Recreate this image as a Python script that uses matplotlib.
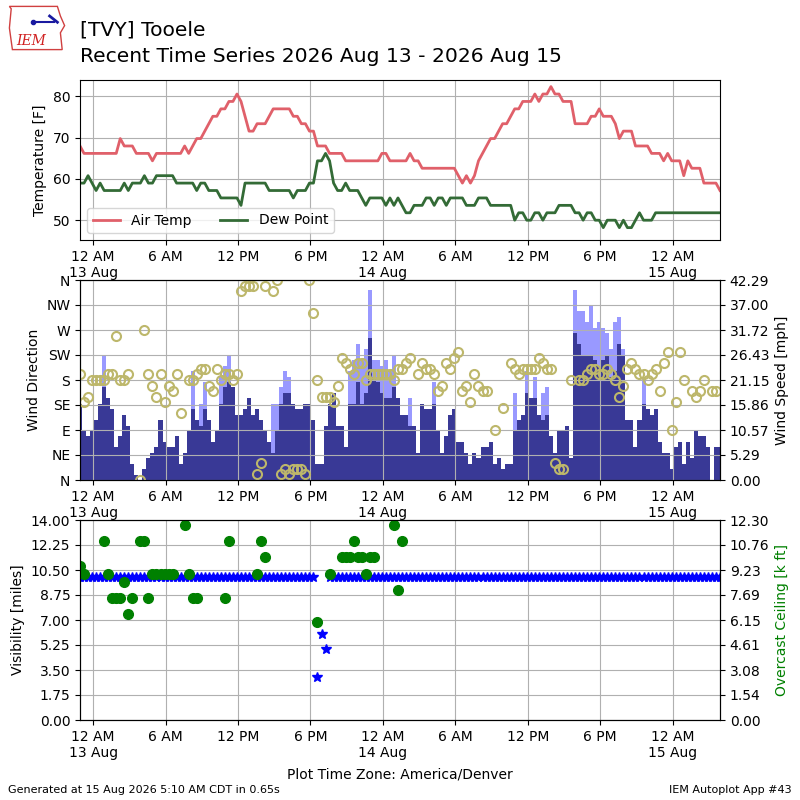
import numpy as np
import pandas as pd
import matplotlib
matplotlib.use("Agg")
import matplotlib.pyplot as plt
import matplotlib.dates as mdates
from matplotlib.ticker import FuncFormatter

N = np.nan

station = "[TVY] Tooele"
subtitle = "Recent Time Series 2026 Aug 13 - 2026 Aug 15"
first_obs = "2026-08-12 22:55"  # observations every 20 minutes
footer_left = "Generated at 15 Aug 2026 5:10 AM CDT in 0.65s"
footer_right = "IEM Autoplot App #43"
tz_label = "Plot Time Zone: America/Denver"

# air temperature [C]
tmpc = [20, 19, 19, 19, 19, 19, 19, 19, 19, 19,
        21, 20, 20, 20, 19, 19, 19, 19, 18, 19,
        19, 19, 19, 19, 19, 19, 20, 19, 20, 21,
        21, 22, 23, 24, 24, 25, 25, 26, 26, 27,
        26, 24, 22, 22, 23, 23, 23, 24, 25, 25,
        25, 25, 25, 24, 24, 23, 23, 22, 22, 20,
        20, 20, 19, 19, 19, 19, 18, 18, 18, 18,
        18, 18, 18, 18, 18, 19, 19, 18, 18, 18,
        18, 18, 19, 18, 18, 17, 17, 17, 17, 17,
        17, 17, 17, 17, 16, 15, 16, 15, 16, 18,
        19, 20, 21, 21, 22, 23, 23, 24, 25, 25,
        26, 26, 26, 27, 26, 27, 27, 28, 27, 27,
        26, 26, 26, 23, 23, 23, 23, 24, 24, 25,
        24, 24, 24, 23, 21, 22, 22, 22, 20, 20,
        20, 20, 19, 19, 19, 18, 19, 18, 18, 18,
        16, 18, 17, 17, 17, 15, 15, 15, 15, 14]

# dew point [C]
dwpc = [15, 15, 16, 15, 14, 15, 14, 14, 14, 14,
        14, 15, 14, 15, 15, 15, 16, 15, 15, 16,
        16, 16, 16, 16, 15, 15, 15, 15, 15, 14,
        15, 15, 14, 14, 14, 13, 13, 13, 13, 13,
        12, 15, 15, 15, 15, 15, 15, 14, 14, 14,
        14, 14, 14, 13, 14, 14, 14, 15, 15, 18,
        18, 19, 18, 15, 14, 14, 15, 14, 14, 14,
        13, 12, 13, 13, 13, 13, 12, 13, 12, 13,
        12, 11, 11, 12, 12, 12, 13, 13, 12, 13,
        13, 12, 13, 13, 13, 13, 12, 12, 12, 13,
        13, 13, 12, 12, 12, 12, 12, 12, 10, 11,
        11, 10, 10, 11, 11, 10, 11, 11, 11, 12,
        12, 12, 12, 11, 11, 10, 11, 11, 10, 10,
        9, 10, 10, 10, 9, 10, 9, 9, 10, 11,
        10, 10, 10, 11, 11, 11, 11, 11, 11, 11,
        11, 11, 11, 11, 11, 11, 11, 11, 11, 11]

# wind speed [kt]
sknt = [14, 9, 8, 9, 11, 14, 17, 15, 13, 6,
        8, 12, 10, 3, 1, 0, 2, 4, 5, 6,
        11, 7, 6, 6, 8, 3, 5, 9, 13, 11,
        10, 13, 11, 7, 9, 14, 17, 18, 17, 12,
        12, 13, 15, 12, 13, 11, 9, 7, 5, 9,
        14, 16, 16, 14, 13, 13, 14, 14, 11, 3,
        3, 10, 14, 16, 10, 10, 6, 14, 14, 18,
        14, 16, 26, 19, 18, 16, 15, 15, 17, 15,
        12, 12, 10, 10, 5, 14, 13, 13, 14, 9,
        5, 8, 12, 13, 7, 7, 5, 3, 5, 4,
        6, 6, 7, 3, 4, 2, 3, 3, 9, 11,
        12, 16, 15, 15, 12, 11, 12, 8, 5, 9,
        9, 10, 4, 27, 25, 23, 23, 23, 22, 21,
        22, 23, 19, 20, 25, 23, 11, 11, 6, 11,
        14, 13, 12, 13, 7, 5, 5, 2, 6, 7,
        3, 7, 4, 9, 8, 8, 6, 0, 6, 6]

# wind gust [kt]
gust = [N, N, N, N, N, N, 23, N, N, N,
        N, N, N, N, N, N, N, N, N, N,
        N, N, N, N, N, N, N, N, 20, N,
        14, 18, N, N, N, 19, 21, 23, N, N,
        N, N, N, N, N, N, N, N, 14, 14,
        17, 20, 19, N, N, N, N, N, N, N,
        N, N, N, N, N, N, N, 20, 22, 25,
        22, 24, 35, 22, 22, 21, 22, 20, 23, N,
        N, N, 15, N, N, N, N, N, 18, N,
        N, N, N, N, N, N, N, N, N, N,
        N, N, N, N, N, N, N, N, 16, N,
        N, 20, N, 19, N, 16, 17, N, N, N,
        N, N, N, 35, 31, 31, 29, 32, 28, 29,
        28, 27, 24, 29, 30, 24, N, N, N, N,
        19, N, N, N, N, N, N, N, N, N,
        N, N, N, N, N, N, N, N, N, N]

# wind direction [deg]
drct = [190, 140, 150, 180, 180, 180, 180, 190, 190, 260,
        180, 180, 190, N, N, 0, 270, 190, 170, 150,
        190, 140, 170, 160, 190, 120, N, 180, 180, 190,
        200, 200, 170, 160, 200, 180, 190, 190, 180, 190,
        340, 350, 350, 350, 10, 30, 350, N, 340, 360,
        10, 20, 10, 20, 20, 20, 10, 360, 300, 180,
        150, 150, 150, 140, 170, 220, 210, 200, 190, 210,
        210, 180, 190, 190, 190, 190, 190, 190, 180, 200,
        200, 210, 220, N, 190, 210, 200, 200, 190, 160,
        170, 210, 200, 220, 230, 160, 170, 140, 190, 170,
        160, 160, N, 90, N, 130, N, 210, 200, 190,
        200, 200, 200, 200, 220, 210, 200, 200, 30, 20,
        20, N, 180, N, 180, 180, 190, 200, 200, 190,
        190, 200, 190, 180, 150, 170, 200, 210, 200, 190,
        190, 180, 190, 200, 160, 210, 230, 90, 140, 230,
        180, N, 160, 150, 160, 180, N, 160, 160, N]

# visibility [miles]
vsby = [10, 10, 10, 10, 10, 10, 10, 10, 10, 10,
        10, 10, 10, 10, 10, 10, 10, 10, 10, 10,
        10, 10, 10, 10, 10, 10, 10, 10, 10, 10,
        10, 10, 10, 10, 10, 10, 10, 10, 10, 10,
        10, 10, 10, 10, 10, 10, 10, 10, 10, 10,
        10, 10, 10, 10, 10, 10, 10, 10, 10, 3,
        6, 5, 10, 10, 10, 10, 10, 10, 10, 10,
        10, 10, 10, 10, 10, 10, 10, 10, 10, 10,
        10, 10, 10, 10, 10, 10, 10, 10, 10, 10,
        10, 10, 10, 10, 10, 10, 10, 10, 10, 10,
        10, 10, 10, 10, 10, 10, 10, 10, 10, 10,
        10, 10, 10, 10, 10, 10, 10, 10, 10, 10,
        10, 10, 10, 10, 10, 10, 10, 10, 10, 10,
        10, 10, 10, 10, 10, 10, 10, 10, 10, 10,
        10, 10, 10, 10, 10, 10, 10, 10, 10, 10,
        10, 10, 10, 10, 10, 10, 10, 10, 10, 10]

# overcast ceiling [k ft]
ceil = [9.5, 9.0, N, N, N, N, 11.0, 9.0, 7.5, 7.5,
        7.5, 8.5, 6.5, 7.5, N, 11.0, 11.0, 7.5, 9.0, 9.0,
        9.0, 9.0, 9.0, 9.0, N, N, 12.0, 9.0, 7.5, 7.5,
        N, N, N, N, N, N, 7.5, 11.0, N, N,
        N, N, N, N, 9.0, 11.0, 10.0, N, N, N,
        N, N, N, N, N, N, N, N, N, 6.0,
        N, N, 9.0, N, N, 10.0, 10.0, 10.0, 11.0, 10.0,
        10.0, 9.0, 10.0, 10.0, N, N, N, N, 12.0, 8.0,
        11.0, N, N, N, N, N, N, N, N, N,
        N, N, N, N, N, N, N, N, N, N,
        N, N, N, N, N, N, N, N, N, N,
        N, N, N, N, N, N, N, N, N, N,
        N, N, N, N, N, N, N, N, N, N,
        N, N, N, N, N, N, N, N, N, N,
        N, N, N, N, N, N, N, N, N, N,
        N, N, N, N, N, N, N, N, N, N]

dir_labels = ["N", "NE", "E", "SE", "S", "SW", "W", "NW", "N"]
speed_labels = ["0.00", "5.29", "10.57", "15.86", "21.15", "26.43", "31.72",
                "37.00", "42.29"]
vis_labels = ["0.00", "1.75", "3.50", "5.25", "7.00", "8.75", "10.50",
              "12.25", "14.00"]
ceil_labels = ["0.00", "1.54", "3.08", "4.61", "6.15", "7.69", "9.23",
               "10.76", "12.30"]

times = pd.date_range(first_obs, periods=len(tmpc), freq="20min")
tmpf = np.array(tmpc) * 9 / 5 + 32
dwpf = np.array(dwpc) * 9 / 5 + 32
smph = np.array(sknt, dtype=float) * 1.15078
gmph = np.array(gust, dtype=float) * 1.15078


def timefmt(x, pos=None):
    d = mdates.num2date(x)
    hr = d.hour % 12
    if hr == 0:
        hr = 12
    s = "%d %s" % (hr, "AM" if d.hour < 12 else "PM")
    if d.hour == 0:
        s += "\n%d %s" % (d.day, d.strftime("%b"))
    return s


def fix_xaxis(ax):
    ax.xaxis.set_major_locator(mdates.HourLocator(byhour=[0, 6, 12, 18]))
    ax.xaxis.set_major_formatter(FuncFormatter(timefmt))
    ax.set_xlim(times[0], times[-1])
    ax.grid(True, color="#b0b0b0")


fig = plt.figure(figsize=(8, 8), dpi=100)

fig.text(0.1, 0.962, station, fontsize=14.6, va="center")
fig.text(0.1, 0.929, subtitle, fontsize=14.6, va="center")

# small logo
lax = fig.add_axes([0.008, 0.935, 0.075, 0.06])
lax.fill([0.05, 0.85, 0.9, 0.97, 0.9, 0.93, 0.1, 0.05, 0.08],
         [0.95, 0.95, 0.75, 0.55, 0.4, 0.05, 0.05, 0.5, 0.9],
         facecolor="white", edgecolor="#d04040", lw=1)
lax.plot([0.45, 0.8], [0.62, 0.62], color="#1a1aa0", lw=1.5)
lax.plot([0.45], [0.62], "o", color="#1a1aa0", ms=3)
lax.plot([0.72, 0.85], [0.75, 0.62], color="#1a1aa0", lw=2)
lax.text(0.42, 0.22, "IEM", color="#d02020", fontsize=10, family="serif",
         style="italic", ha="center", va="center")
lax.set_xlim(0, 1)
lax.set_ylim(0, 1)
lax.axis("off")

# temperature
ax1 = fig.add_axes([0.1, 0.7, 0.8, 0.2])
ax1.plot(times, tmpf, color="#e0606a", lw=2, label="Air Temp")
ax1.plot(times, dwpf, color="#336b36", lw=2, label="Dew Point")
ax1.set_ylim(45.2, 84)
ax1.set_yticks([50, 60, 70, 80])
ax1.set_ylabel("Temperature [F]")
ax1.legend(loc="lower left", ncol=2, fontsize=10)
fix_xaxis(ax1)

# wind
ax2 = fig.add_axes([0.1, 0.4, 0.8, 0.25])
ax2b = ax2.twinx()
ax2b.bar(times, gmph, width=20 / 1440, color="#9999ff", lw=0)
ax2b.bar(times, smph, width=20 / 1440, color="#393996", lw=0)
ax2b.set_ylim(0, 42.29)
ax2b.set_yticks(np.linspace(0, 42.29, 9))
ax2b.set_yticklabels(speed_labels)
ax2b.set_ylabel("Wind Speed [mph]")
ax2.set_zorder(ax2b.get_zorder() + 1)
ax2.patch.set_visible(False)
ax2.plot(times, drct, "o", mfc="none", mec="darkkhaki", ms=6.5, mew=1.5)
ax2.set_ylim(0, 360)
ax2.set_yticks(np.arange(0, 361, 45))
ax2.set_yticklabels(dir_labels)
ax2.set_ylabel("Wind Direction")
fix_xaxis(ax2)

# visibility / ceiling
ax3 = fig.add_axes([0.1, 0.1, 0.8, 0.25])
ax3.plot(times, vsby, "*", color="b", ms=7, ls="none")
ax3.set_ylim(0, 14)
ax3.set_yticks(np.linspace(0, 14, 9))
ax3.set_yticklabels(vis_labels)
ax3.set_ylabel("Visibility [miles]")
fix_xaxis(ax3)
ax3b = ax3.twinx()
ax3b.plot(times, ceil, "o", color="green", ms=7, ls="none")
ax3b.set_ylim(0, 12.3)
ax3b.set_yticks(np.linspace(0, 12.3, 9))
ax3b.set_yticklabels(ceil_labels)
ax3b.set_ylabel("Overcast Ceiling [k ft]", color="green")
ax3b.set_xlim(times[0], times[-1])

fig.text(0.5, 0.032, tz_label, ha="center", va="center", fontsize=10)
fig.text(0.01, 0.012, footer_left, fontsize=8, va="center")
fig.text(0.99, 0.012, footer_right, fontsize=8, ha="right", va="center")

fig.savefig("out.png", dpi=100)
